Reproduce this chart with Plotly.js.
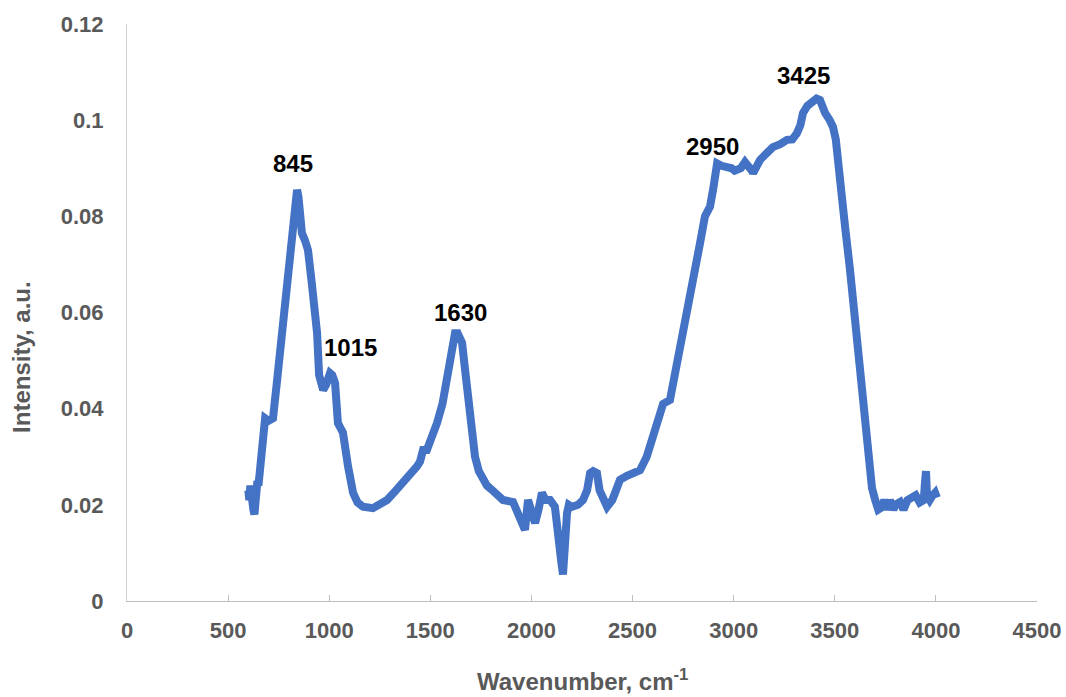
<!DOCTYPE html>
<html>
<head>
<meta charset="utf-8">
<script src="https://cdn.plot.ly/plotly-3.0.1.min.js"></script>
<style>html,body{margin:0;padding:0;background:#fff;}#chart{width:1066px;height:697px;}</style>
</head>
<body>
<div id="chart"></div>
<script>
const wavenumber = [600,605,610,615,620,625,630,635,640,645,650,660,667,675,683,700,722,740,757,775,796,816,830,841,848,855,865,880,895,914,930,940,950,960,970,985,1004,1015,1029,1043,1068,1093,1118,1140,1167,1216,1250,1286,1330,1365,1400,1434,1449,1464,1483,1510,1533,1560,1582,1605,1622,1635,1657,1672,1686,1703,1721,1740,1760,1780,1805,1830,1859,1909,1925,1943,1968,1983,2000,2018,2035,2052,2070,2092,2116,2125,2131,2140,2148,2156,2163,2170,2176,2185,2200,2230,2255,2275,2290,2305,2324,2337,2349,2374,2400,2438,2470,2500,2537,2570,2601,2630,2651,2685,2710,2735,2760,2784,2810,2834,2858,2883,2900,2918,2940,2967,2990,3005,3016,3035,3056,3075,3090,3096,3110,3130,3160,3194,3230,3264,3290,3313,3330,3343,3365,3393,3410,3427,3440,3452,3475,3491,3505,3526,3551,3575,3600,3625,3645,3659,3684,3700,3715,3734,3745,3760,3773,3790,3800,3823,3840,3860,3887,3900,3920,3940,3945,3951,3956,3970,3985,3996,4005];
const intensity = [0.023,0.021,0.024,0.020,0.023,0.019,0.018,0.022,0.021,0.025,0.024,0.030,0.034,0.036,0.038,0.0375,0.038,0.045,0.052,0.060,0.0695,0.0765,0.082,0.0855,0.084,0.079,0.0765,0.075,0.073,0.066,0.060,0.0557,0.047,0.044,0.0439,0.045,0.0474,0.047,0.0453,0.037,0.035,0.028,0.0225,0.0205,0.0196,0.0193,0.020,0.021,0.023,0.0245,0.026,0.028,0.029,0.0314,0.0314,0.034,0.037,0.041,0.046,0.052,0.0557,0.0557,0.0537,0.048,0.0425,0.036,0.030,0.027,0.0252,0.024,0.0231,0.022,0.021,0.0206,0.019,0.0168,0.0148,0.021,0.018,0.0162,0.019,0.0225,0.021,0.021,0.0196,0.015,0.0127,0.011,0.008,0.0055,0.012,0.016,0.0183,0.020,0.0196,0.020,0.021,0.023,0.0266,0.027,0.0266,0.023,0.0216,0.0196,0.021,0.0252,0.026,0.0265,0.0272,0.030,0.034,0.038,0.041,0.0418,0.047,0.0528,0.058,0.064,0.069,0.0745,0.080,0.082,0.086,0.091,0.0905,0.0903,0.090,0.0895,0.0896,0.090,0.0913,0.0905,0.0895,0.089,0.0905,0.0917,0.093,0.0944,0.095,0.0959,0.096,0.0973,0.099,0.1015,0.103,0.1042,0.1045,0.1042,0.102,0.1015,0.100,0.0986,0.096,0.086,0.0778,0.069,0.058,0.047,0.038,0.033,0.0235,0.021,0.019,0.0195,0.021,0.019,0.021,0.019,0.020,0.0206,0.019,0.021,0.0216,0.022,0.0205,0.021,0.024,0.027,0.022,0.021,0.022,0.0225,0.0215];
const peakLabels = ["845","1015","1630","2950","3425"];
const peakX = [821,1103,1647,2893,3343];
const peakY = [0.0909,0.0528,0.0599,0.0946,0.1092];
const xTicks = [0,500,1000,1500,2000,2500,3000,3500,4000,4500];
const yTicks = [0,0.02,0.04,0.06,0.08,0.1,0.12];
const yTickText = ['0','0.02','0.04','0.06','0.08','0.1','0.12'];

const grey = '#595959';
const fam = 'Liberation Sans, Arial, sans-serif';
const annotations = peakLabels.map((t,i)=>({
  x: peakX[i], y: peakY[i], text: t, showarrow: false,
  font: {family: fam, size: 24, color: '#000', weight: 'bold'},
  xanchor: 'center', yanchor: 'middle'
}));
annotations.push({
  xref: 'paper', yref: 'paper', x: -0.1154, y: 0.423, text: 'Intensity, a.u.', textangle: -90,
  showarrow: false, xanchor: 'center', yanchor: 'middle',
  font: {family: fam, size: 24, color: grey, weight: 'bold'}
});
annotations.push({
  xref: 'paper', yref: 'paper', x: 0.5, y: -0.137, text: 'Wavenumber, cm<sup>-1</sup>',
  showarrow: false, xanchor: 'center', yanchor: 'middle',
  font: {family: fam, size: 24, color: grey, weight: 'bold'}
});

const data = [{
  x: wavenumber, y: intensity, type: 'scatter', mode: 'lines',
  line: {color: '#4472C4', width: 8, shape: 'linear'},
  hoverinfo: 'x+y'
}];

const layout = {
  width: 1066, height: 697,
  margin: {l: 127, r: 29, t: 24, b: 96},
  paper_bgcolor: '#fff', plot_bgcolor: '#fff',
  showlegend: false,
  font: {family: fam, color: grey},
  xaxis: {
    range: [0, 4500], tickvals: xTicks,
    showgrid: false, zeroline: false, showline: true, linecolor: '#BFBFBF', linewidth: 1,
    ticks: 'inside', ticklen: 6, tickcolor: '#BFBFBF', ticklabelstandoff: 10,
    tickfont: {size: 22, color: grey, weight: 'bold'}
  },
  yaxis: {
    range: [0, 0.12], tickvals: yTicks, ticktext: yTickText,
    showgrid: false, zeroline: false, showline: true, linecolor: '#D0D0D0', linewidth: 1,
    ticks: '', ticklabelstandoff: 18,
    tickfont: {size: 22, color: grey, weight: 'bold'}
  },
  annotations: annotations
};
Plotly.newPlot('chart', data, layout, {displayModeBar: false, staticPlot: true});
</script>
</body>
</html>
